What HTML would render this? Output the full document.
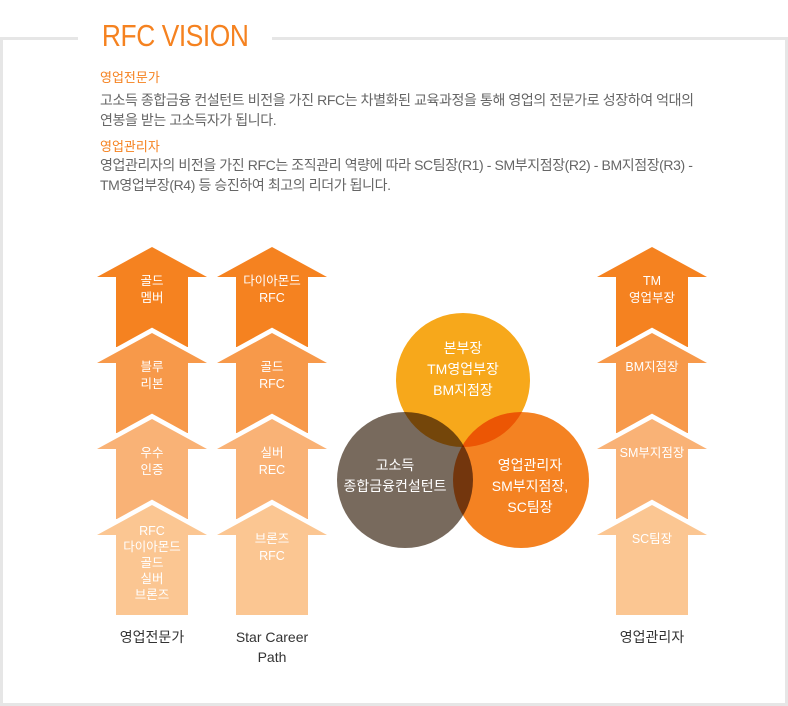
<!DOCTYPE html>
<html><head><meta charset="utf-8"><style>
body{margin:0;width:788px;height:706px;background:#fff;position:relative;overflow:hidden;font-family:"Liberation Sans","Noto Sans CJK KR",sans-serif}
.frame{position:absolute;left:0;top:37px;width:782px;height:663px;border:3px solid #e6e6e6}
.title{position:absolute;left:78px;top:16px;width:194px;background:#fff;color:#f58220;font-size:31px;text-align:center;line-height:40px}
.title span{display:inline-block;letter-spacing:-0.5px;transform:scaleX(0.85)}
.h{position:absolute;left:100px;color:#f58220;font-size:13px}
.p{position:absolute;left:100px;color:#666;font-size:14px;line-height:20px;width:660px;letter-spacing:-0.4px;white-space:nowrap}
.lbl{position:absolute;font-size:14px;color:#333;text-align:center;line-height:20px}
svg{position:absolute;left:0;top:0}
</style></head><body>
<div class="frame"></div>
<div class="title"><span>RFC VISION</span></div>
<div class="h" style="top:67px">영업전문가</div>
<div class="p" style="top:90px">고소득 종합금융 컨설턴트 비전을 가진 RFC는 차별화된 교육과정을 통해 영업의 전문가로 성장하여 억대의<br>연봉을 받는 고소득자가 됩니다.</div>
<div class="h" style="top:136px">영업관리자</div>
<div class="p" style="top:155px">영업관리자의 비전을 가진 RFC는 조직관리 역량에 따라 SC팀장(R1) - SM부지점장(R2) - BM지점장(R3) -<br>TM영업부장(R4) 등 승진하여 최고의 리더가 됩니다.</div>
<svg width="788" height="706" font-family="Liberation Sans, Noto Sans CJK KR, sans-serif" font-size="12.5" fill="#fff" text-anchor="middle">
<defs>
<g id="a1"><polygon points="55,0 110,30 91,30 91,100 19,100 19,30 0,30"/></g>
<g id="a4"><polygon points="55,0 110,30 91,30 91,110 19,110 19,30 0,30"/></g>
<g id="g"><polyline points="-4,30 55,-2.5 114,30" fill="none" stroke="#fff" stroke-width="5"/></g>
</defs>
<g transform="translate(97,247)"><use href="#a1" fill="#f58220"/></g>
<g transform="translate(97,333)"><use href="#g"/><use href="#a1" fill="#f7994a"/></g>
<g transform="translate(97,419)"><use href="#g"/><use href="#a1" fill="#f9b276"/></g>
<g transform="translate(97,505)"><use href="#g"/><use href="#a4" fill="#fbc692"/></g>
<g transform="translate(217,247)"><use href="#a1" fill="#f58220"/></g>
<g transform="translate(217,333)"><use href="#g"/><use href="#a1" fill="#f7994a"/></g>
<g transform="translate(217,419)"><use href="#g"/><use href="#a1" fill="#f9b276"/></g>
<g transform="translate(217,505)"><use href="#g"/><use href="#a4" fill="#fbc692"/></g>
<g transform="translate(597,247)"><use href="#a1" fill="#f58220"/></g>
<g transform="translate(597,333)"><use href="#g"/><use href="#a1" fill="#f7994a"/></g>
<g transform="translate(597,419)"><use href="#g"/><use href="#a1" fill="#f9b276"/></g>
<g transform="translate(597,505)"><use href="#g"/><use href="#a4" fill="#fbc692"/></g>
<g>
<text x="152" y="285">골드</text><text x="152" y="302">멤버</text>
<text x="152" y="371">블루</text><text x="152" y="388">리본</text>
<text x="152" y="457">우수</text><text x="152" y="474">인증</text>
<text x="152" y="535">RFC</text><text x="152" y="551">다이아몬드</text><text x="152" y="567">골드</text><text x="152" y="583">실버</text><text x="152" y="599">브론즈</text>
<text x="272" y="285">다이아몬드</text><text x="272" y="302">RFC</text>
<text x="272" y="371">골드</text><text x="272" y="388">RFC</text>
<text x="272" y="457">실버</text><text x="272" y="474">REC</text>
<text x="272" y="543">브론즈</text><text x="272" y="560">RFC</text>
<text x="652" y="285">TM</text><text x="652" y="302">영업부장</text>
<text x="652" y="371">BM지점장</text>
<text x="652" y="457">SM부지점장</text>
<text x="652" y="543">SC팀장</text>
</g>
<g style="isolation:isolate">
<circle cx="463" cy="380" r="67" fill="#f7a81b"/>
<circle cx="405" cy="480" r="68" fill="#786a5d" style="mix-blend-mode:multiply"/>
<circle cx="521" cy="480" r="68" fill="#f48222" style="mix-blend-mode:multiply"/>
</g>
<g font-size="14">
<text x="463" y="353">본부장</text><text x="463" y="374">TM영업부장</text><text x="463" y="395">BM지점장</text>
<text x="395" y="470">고소득</text><text x="395" y="491">종합금융컨설턴트</text>
<text x="530" y="470">영업관리자</text><text x="530" y="491">SM부지점장,</text><text x="530" y="512">SC팀장</text>
</g>
</svg>
<div class="lbl" style="left:97px;top:627px;width:110px">영업전문가</div>
<div class="lbl" style="left:217px;top:627px;width:110px">Star Career<br>Path</div>
<div class="lbl" style="left:597px;top:627px;width:110px">영업관리자</div>
</body></html>
